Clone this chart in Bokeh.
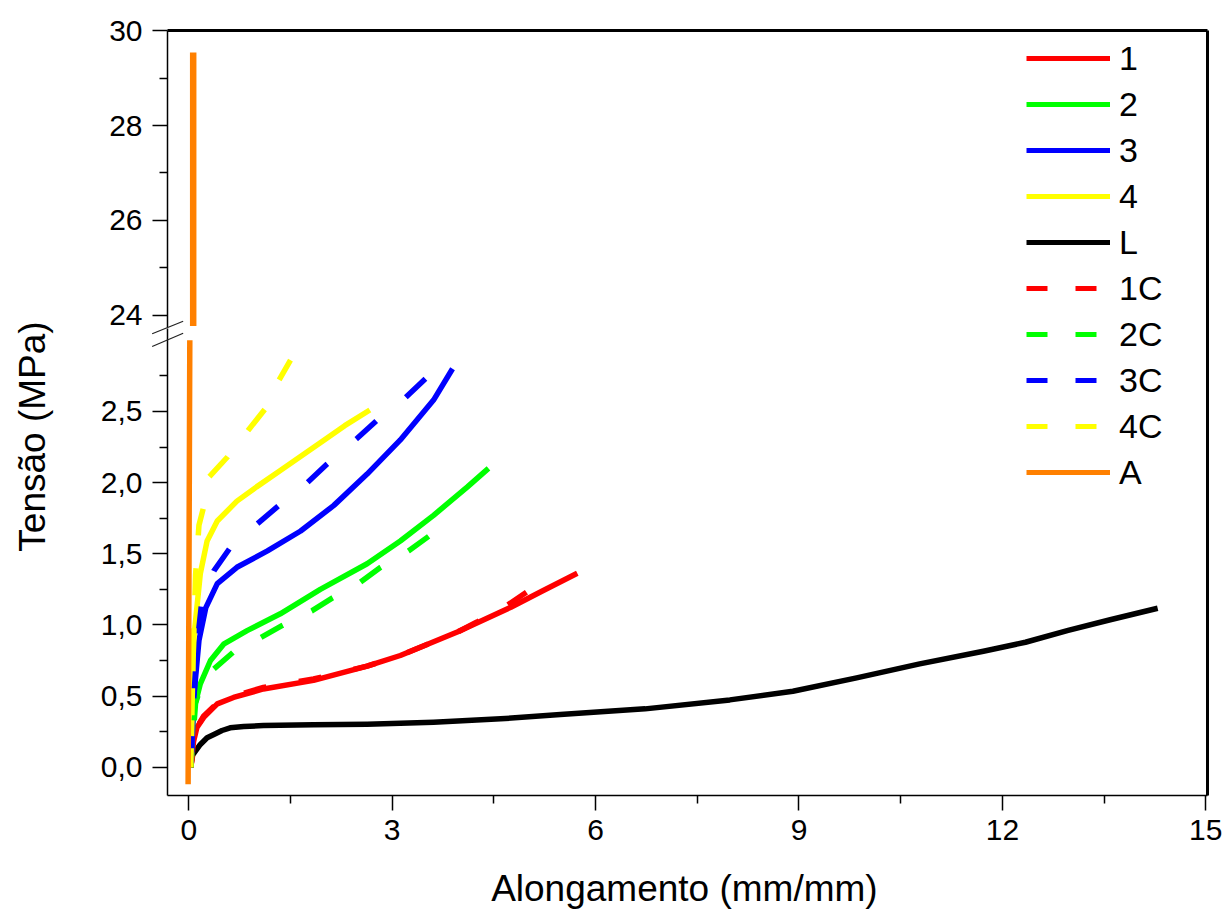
import math
import numpy as np
from bokeh.plotting import figure
from bokeh.models import (Range1d, LinearAxis, FixedTicker, CustomJSTickFormatter,
                          Legend, LegendItem, Label, Arrow)
from bokeh.embed import file_html
from bokeh.resources import INLINE

FONT = "Liberation Sans"

# ---------------- data ----------------
x_L = [0.03, 0.05, 0.17, 0.27, 0.37, 0.49, 0.61, 0.81, 1.1, 1.84, 2.63, 3.61, 4.6, 5.48, 6.73, 7.98, 8.91, 9.85, 10.78, 11.72, 12.34, 12.97, 13.59, 14.29]
y_L = [0.0, 0.082, 0.16, 0.207, 0.23, 0.258, 0.277, 0.286, 0.293, 0.298, 0.302, 0.316, 0.34, 0.37, 0.41, 0.473, 0.534, 0.628, 0.726, 0.815, 0.878, 0.961, 1.036, 1.117]

x_1 = [0.03, 0.07, 0.12, 0.22, 0.42, 0.66, 1.1, 1.84, 2.63, 3.12, 3.96, 4.75, 5.2, 5.73]
y_1 = [0.0, 0.18, 0.28, 0.35, 0.445, 0.49, 0.55, 0.61, 0.71, 0.785, 0.95, 1.124, 1.235, 1.363]

x_2 = [0.03, 0.07, 0.17, 0.32, 0.52, 0.86, 1.35, 1.94, 2.63, 3.12, 3.61, 4.11, 4.42]
y_2 = [0.0, 0.40, 0.586, 0.75, 0.867, 0.96, 1.078, 1.25, 1.43, 1.59, 1.77, 1.97, 2.10]

x_3 = [0.03, 0.05, 0.07, 0.15, 0.25, 0.42, 0.71, 1.16, 1.65, 2.14, 2.63, 3.12, 3.61, 3.89]
y_3 = [0.0, 0.2, 0.47, 0.89, 1.12, 1.29, 1.405, 1.52, 1.66, 1.84, 2.06, 2.30, 2.58, 2.80]

x_4 = [0.03, 0.05, 0.07, 0.17, 0.27, 0.42, 0.71, 1.0, 1.35, 1.94, 2.3, 2.67]
y_4 = [0.0, 0.4, 0.89, 1.36, 1.59, 1.73, 1.87, 1.97, 2.085, 2.28, 2.4, 2.51]

x_1C = [0.03, 0.12, 0.22, 0.42, 0.66, 1.1, 1.84, 2.63, 3.12, 3.96, 4.25, 4.69, 4.98]
y_1C = [0.0, 0.28, 0.36, 0.45, 0.5, 0.56, 0.62, 0.71, 0.785, 0.949, 1.02, 1.136, 1.23]

x_2C = [0.03, 0.1, 0.2, 0.37, 0.66, 1.06, 1.38, 1.82, 2.12, 2.53, 2.83, 3.24, 3.56]
y_2C = [0.0, 0.45, 0.6, 0.69, 0.81, 0.91, 0.996, 1.10, 1.19, 1.30, 1.405, 1.52, 1.63]

x_3C = [0.03, 0.07, 0.12, 0.2, 0.37, 0.6, 1.01, 1.33, 1.75, 2.04, 2.48, 2.78, 3.2, 3.49]
y_3C = [0.0, 0.45, 0.85, 1.2, 1.38, 1.535, 1.71, 1.84, 2.0, 2.13, 2.31, 2.44, 2.60, 2.73]

x_4C = [0.03, 0.06, 0.1, 0.15, 0.22, 0.3, 0.57, 0.88, 1.13, 1.33, 1.5]
y_4C = [0.0, 0.7, 1.35, 1.70, 1.83, 2.04, 2.18, 2.37, 2.52, 2.72, 2.86]

x_A = [-0.01, 0.0, 0.015, 0.065, 0.065]
y_A = [-0.12, 1.0, 3.0, 23.77, 29.54]

series_names = ["1", "2", "3", "4", "L", "1C", "2C", "3C", "4C", "A"]

x_ticks = [0, 3, 6, 9, 12, 15]
x_minor = [1.5, 4.5, 7.5, 10.5, 13.5]
low_ticks = [0.0, 0.5, 1.0, 1.5, 2.0, 2.5]
low_minor = [0.25, 0.75, 1.25, 1.75, 2.25, 2.75]
up_ticks = [24, 26, 28, 30]
up_minor = [25, 27, 29]

# axis extents (the boxed area of the chart)
X_LO, X_HI = -0.314, 15.025
LOW_LO, LOW_HI = -0.199, 3.085     # lower scale segment
LOW_TOP = 5.177                    # lower-scale value at the box's top edge
UP_LO, UP_HI = 23.74, 30.006       # upper scale segment
LOW_BREAK = 3.0

# whole-canvas ranges (the plot frame fills the page; axes are placed inside it)
X_CANVAS = (-2.777, 15.261)
Y_LOW_CANVAS = (-1.007, 5.388)
Y_UP_CANVAS = (11.441, 30.639)

p = figure(width=1223, height=910, output_backend="svg", toolbar_location=None,
           x_range=Range1d(*X_CANVAS), y_range=Range1d(*Y_LOW_CANVAS),
           x_axis_location=None, y_axis_location=None,
           min_border_left=0, min_border_right=0, min_border_top=0, min_border_bottom=0)
p.extra_y_ranges = {"upper": Range1d(*Y_UP_CANVAS)}
p.grid.visible = False
p.outline_line_color = None
p.background_fill_color = "white"
p.border_fill_color = "white"


def style_axis(ax):
    ax.axis_line_color = "black"
    ax.axis_line_width = 1.5
    ax.major_tick_line_color = "black"
    ax.major_tick_line_width = 1.5
    ax.minor_tick_line_color = "black"
    ax.minor_tick_line_width = 1.5
    ax.major_tick_out = 15
    ax.major_tick_in = 0
    ax.minor_tick_out = 8
    ax.minor_tick_in = 0
    ax.major_label_text_font = FONT
    ax.major_label_text_font_size = "30px"
    ax.major_label_text_color = "black"
    ax.major_label_standoff = 10


# bottom axis
xa = LinearAxis(fixed_location=LOW_LO, bounds=(X_LO, X_HI),
                ticker=FixedTicker(ticks=x_ticks, minor_ticks=x_minor))
style_axis(xa)
xa.major_label_standoff = 9
p.add_layout(xa, "below")

# lower left axis
ya = LinearAxis(fixed_location=X_LO, bounds=(LOW_LO, LOW_HI),
                ticker=FixedTicker(ticks=low_ticks, minor_ticks=low_minor),
                formatter=CustomJSTickFormatter(code="return tick.toFixed(1).replace('.', ',');"))
style_axis(ya)
p.add_layout(ya, "left")

# upper left axis
yu = LinearAxis(y_range_name="upper", fixed_location=X_LO, bounds=(UP_LO, UP_HI),
                ticker=FixedTicker(ticks=up_ticks, minor_ticks=up_minor))
style_axis(yu)
p.add_layout(yu, "left")

# top and right borders
border_kw = dict(ticker=FixedTicker(ticks=[]), axis_line_color="black", axis_line_width=3,
                 major_tick_out=0, major_tick_in=0, minor_tick_out=0, minor_tick_in=0,
                 major_label_text_font_size="0px")
p.add_layout(LinearAxis(y_range_name="upper", fixed_location=UP_HI, bounds=(X_LO, X_HI),
                        **border_kw), "above")
p.add_layout(LinearAxis(fixed_location=X_HI, bounds=(LOW_LO, LOW_TOP), **border_kw), "right")

# ---------------- series ----------------
specs = [
    # name, x, y, colour, dash pattern, dash offset
    ("L", x_L, y_L, "black", "solid", 0),
    ("1", x_1, y_1, "#FF0000", "solid", 0),
    ("2", x_2, y_2, "#00FF00", "solid", 0),
    ("3", x_3, y_3, "#0000FF", "solid", 0),
    ("4", x_4, y_4, "#FFFF00", "solid", 0),
    ("1C", x_1C, y_1C, "#FF0000", "23 33", 11),
    ("2C", x_2C, y_2C, "#00FF00", "25 32", 10),
    ("3C", x_3C, y_3C, "#0000FF", "27 38", 61),
    ("4C", x_4C, y_4C, "#FFFF00", "27 33", 8),
]
style_of = {}
for name, xs, ys, col, dash, off in specs:
    p.line(x=xs, y=ys, line_color=col, line_width=5.5, line_dash=dash,
           line_dash_offset=off, line_join="round")
    style_of[name] = (col, dash)

ax_arr = np.array(x_A)
ay_arr = np.array(y_A)
low_mask = ay_arr <= LOW_BREAK
up_mask = ay_arr >= UP_LO
p.line(x=ax_arr[low_mask], y=ay_arr[low_mask], line_color="#FF8000", line_width=5.5)
p.line(x=ax_arr[up_mask], y=ay_arr[up_mask], line_color="#FF8000", line_width=6.5,
       y_range_name="upper")
style_of["A"] = ("#FF8000", "solid")

# legend (proxy renderers carry the legend's own dash pattern)
items = []
for name in series_names:
    col, dash = style_of[name]
    r = p.line(x=[float("nan")], y=[float("nan")], line_color=col, line_width=5,
               line_dash=("21 28" if dash != "solid" else "solid"))
    items.append(LegendItem(label=name, renderers=[r]))
leg = Legend(items=items, location=(1026, 415), orientation="vertical",
             glyph_width=84, glyph_height=46, label_height=46, spacing=0,
             padding=0, margin=0, label_standoff=9,
             label_text_font=FONT, label_text_font_size="34px",
             label_text_color="black", border_line_color=None,
             background_fill_alpha=0)
p.add_layout(leg, "center")

# axis break marks
for ys0, ys1 in [(3.046, 3.134), (2.956, 3.050)]:
    p.add_layout(Arrow(end=None, x_start=-0.54, y_start=ys0, x_end=-0.083, y_end=ys1,
                       line_color="#222222", line_width=1.2))

# axis titles
p.add_layout(Label(x=7.31, y=-0.849, text="Alongamento (mm/mm)", text_align="center",
                   text_baseline="middle", text_font=FONT, text_font_size="37px",
                   text_color="black"))
p.add_layout(Label(x=-2.305, y=2.324, text="Tensão (MPa)", angle=math.pi / 2,
                   text_align="center", text_baseline="middle", text_font=FONT,
                   text_font_size="37px", text_color="black"))

open("out.html", "w").write(file_html(p, INLINE))
